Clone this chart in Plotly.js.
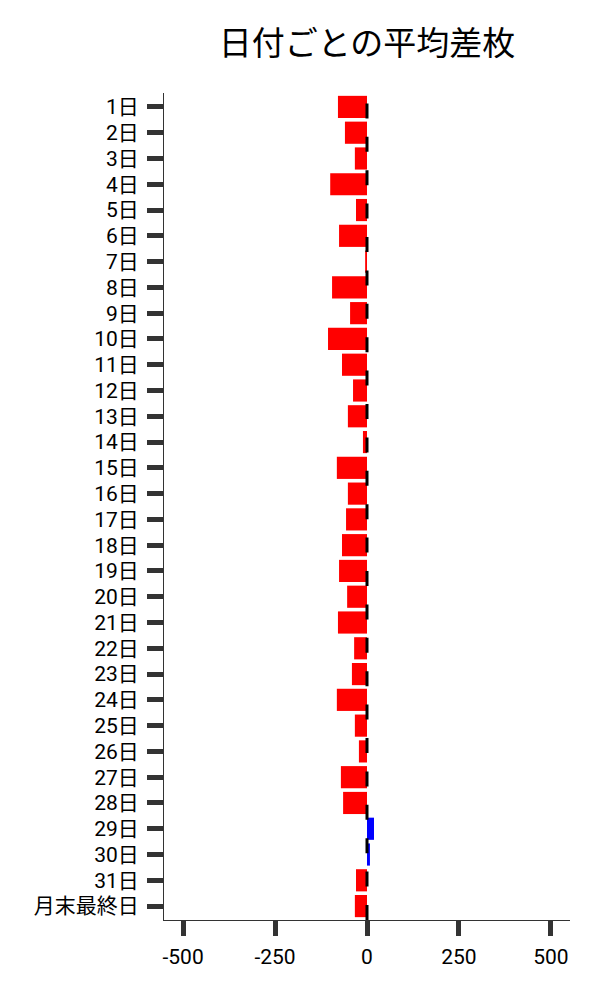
<!DOCTYPE html>
<html>
<head>
<meta charset="utf-8">
<script src="https://cdn.plot.ly/plotly-3.0.1.min.js"></script>
<style>
html,body{margin:0;padding:0;background:#fff;}
#chart{width:600px;height:1000px;}
</style>
</head>
<body>
<div id="chart"></div>
<script>
const categories = ["1日","2日","3日","4日","5日","6日","7日","8日","9日","10日","11日","12日","13日","14日","15日","16日","17日","18日","19日","20日","21日","22日","23日","24日","25日","26日","27日","28日","29日","30日","31日","月末最終日"];
const avgDiff = [-79,-60,-33,-100,-30,-76,-5,-95,-46,-106,-68,-38,-52,-11,-82,-52,-57,-68,-76,-54,-79,-35,-41,-82,-33,-22,-71,-65,19,8,-30,-33];
const xTicks = [-500,-250,0,250,500];

const colors = avgDiff.map(v => v >= 0 ? "#0000FF" : "#FF0000");
const FONT = "Noto Sans CJK JP, Noto Sans, sans-serif";
const TICKFONT = "Roboto, Noto Sans CJK JP, sans-serif";

const trace = {
  type: "bar",
  orientation: "h",
  x: avgDiff,
  y: categories,
  marker: {color: colors, line: {width: 0}},
  hoverinfo: "none"
};

const layout = {
  width: 600, height: 1000,
  margin: {l: 164, r: 30, t: 93, b: 80},
  paper_bgcolor: "#fff", plot_bgcolor: "#fff",
  showlegend: false,
  bargap: 0.14,
  font: {family: TICKFONT, color: "#000", size: 21},
  title: {
    text: "日付ごとの平均差枚",
    font: {family: FONT, size: 33, color: "#000"},
    x: 0.5, xref: "paper", xanchor: "center",
    y: 0.957, yref: "container", yanchor: "middle"
  },
  xaxis: {
    range: [-552, 552],
    tickmode: "array",
    tickvals: xTicks,
    ticktext: xTicks.map(String),
    ticks: "outside", ticklen: 15, tickwidth: 5, tickcolor: "#333",
    showline: true, linecolor: "#333", linewidth: 1,
    showgrid: false, zeroline: false,
    ticklabelstandoff: 3,
    tickfont: {family: TICKFONT, size: 21, color: "#000"}
  },
  yaxis: {
    type: "category",
    categoryorder: "array", categoryarray: categories,
    tickmode: "array", tickvals: categories, ticktext: categories,
    range: [31.54, -0.54],
    ticks: "outside", ticklen: 16, tickwidth: 5, tickcolor: "#333",
    showline: true, linecolor: "#333", linewidth: 1,
    showgrid: false, zeroline: false,
    ticklabelstandoff: 4,
    tickfont: {family: TICKFONT, size: 21, color: "#000"}
  },
  shapes: [{
    type: "line", xref: "x", yref: "paper",
    x0: 0, x1: 0, y0: 0, y1: 1,
    line: {color: "#000", width: 3, dash: "15px,18.4px"},
    layer: "above"
  }]
};

Plotly.newPlot("chart", [trace], layout, {staticPlot: true, displayModeBar: false});
</script>
</body>
</html>
